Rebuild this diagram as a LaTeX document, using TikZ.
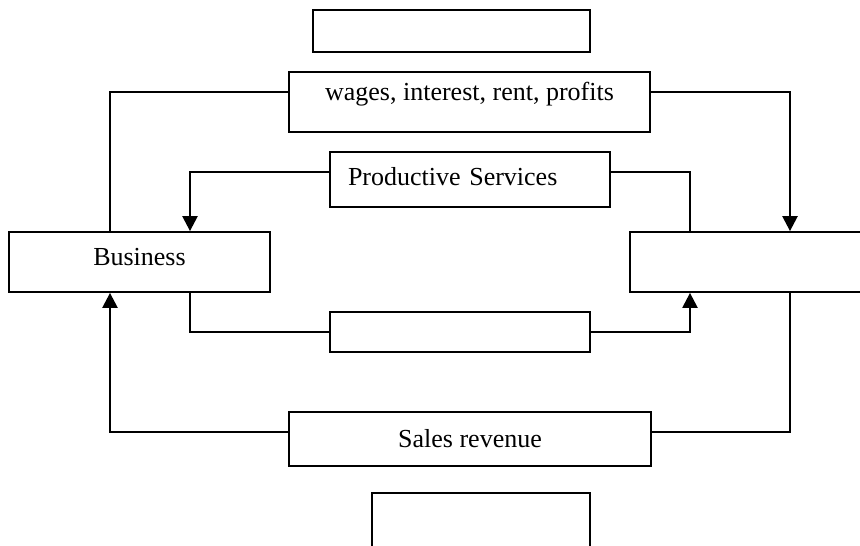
\documentclass[tikz,border=0pt]{standalone}
\usepackage{fontspec}
\setmainfont{Liberation Serif}
\usetikzlibrary{arrows.meta}
\begin{document}
\begin{tikzpicture}[x=1pt,y=-1pt,
  box/.style={draw, line width=1.8pt, inner sep=0pt, anchor=center,
    font=\fontsize{26}{30}\selectfont},
  conn/.style={line width=1.8pt},
  flow/.style={line width=2.4pt, -{Triangle[length=15pt,width=15pt]}}]
\useasboundingbox (0,0) rectangle (860,546);
\clip (0,0) rectangle (860,546);
\node[box, minimum width=277pt, minimum height=42pt] (top) at (451.5,31) {};
\node[box, minimum width=361pt, minimum height=60pt, text height=18pt, text depth=22pt] (wages) at (469.5,102) {wages, interest, rent, profits};
\node[box, minimum height=55pt, text width=244pt, align=left, inner xsep=18pt, text height=18pt, text depth=7pt] (prod) at (470,179.5) {Productive Services};
\node[box, minimum width=261pt, minimum height=60pt, text height=18pt, text depth=12pt] (bus) at (139.5,262) {Business};
\node[box, minimum width=261pt, minimum height=60pt] (hh) at (760.5,262) {};
\node[box, minimum width=260pt, minimum height=40pt] (mid) at (460,332) {};
\node[box, minimum width=362pt, minimum height=54pt] (sales) at (470,439) {Sales revenue};
\node[box, minimum width=218pt, minimum height=60pt] (bot) at (481,523) {};
\coordinate (k1) at (110,92);
\coordinate (k2) at (790,92);
\coordinate (k3) at (690,172);
\coordinate (k4) at (190,172);
\coordinate (k5) at (190,332);
\coordinate (k6) at (690,332);
\coordinate (k7) at (790,432);
\coordinate (k8) at (110,432);
\draw[conn] (bus.north -| k1) |- (wages.west |- k1);
\draw[flow] (wages.east |- k2) -| (hh.north -| k2);
\draw[conn] (hh.north -| k3) |- (prod.east |- k3);
\draw[flow] (prod.west |- k4) -| (bus.north -| k4);
\draw[conn] (bus.south -| k5) |- (mid.west |- k5);
\draw[flow] (mid.east |- k6) -| (hh.south -| k6);
\draw[conn] (hh.south -| k7) |- (sales.east |- k7);
\draw[flow] (sales.west |- k8) -| (bus.south -| k8);
\end{tikzpicture}
\end{document}
